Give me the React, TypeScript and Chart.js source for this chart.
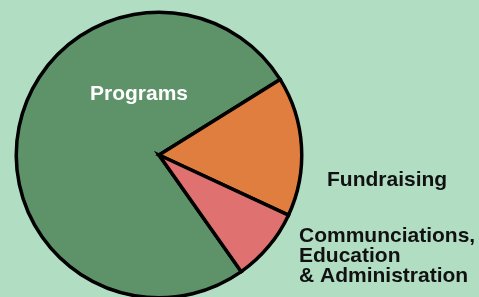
import React, { useEffect, useRef } from "react";
import { Chart, registerables } from "chart.js";

Chart.register(...registerables);

const categories = ["Programs", "Fundraising", "Communciations, Education & Administration"];
const values = [75.9, 15.8, 8.3];
const colors = ["#5e936a", "#e07e3f", "#df7271"];
const programsLabel = ["Programs"];
const fundraisingLabel = ["Fundraising"];
const commLabel = ["Communciations,", "Education", "& Administration"];

const BG = "#b1ddc3";

const labelPlugin = {
  id: "sliceLabels",
  afterDatasetsDraw(chart: any) {
    const meta = chart.getDatasetMeta(0);
    const arc = meta.data[0];
    if (!arc) return;
    const cx = arc.x;
    const cy = arc.y;
    const ctx = chart.ctx;
    ctx.save();
    ctx.font = "bold 21px 'Liberation Sans', Arial, sans-serif";
    ctx.textBaseline = "alphabetic";
    // Programs (inside, white)
    ctx.fillStyle = "#ffffff";
    ctx.textAlign = "center";
    programsLabel.forEach((t, i) => ctx.fillText(t, cx - 20, cy - 55 + i * 20));
    // Outside labels (black)
    ctx.fillStyle = "#111111";
    ctx.textAlign = "left";
    fundraisingLabel.forEach((t, i) => ctx.fillText(t, cx + 168, cy + 30.5 + i * 20));
    commLabel.forEach((t, i) => ctx.fillText(t, cx + 140, cy + 87 + i * 20));
    ctx.restore();
  },
};

export default function App() {
  const ref = useRef<HTMLCanvasElement | null>(null);
  useEffect(() => {
    document.body.style.margin = "0";
    document.body.style.background = BG;
    const canvas = ref.current;
    if (!canvas) return;
    const chart = new Chart(canvas, {
      type: "pie",
      data: {
        labels: categories,
        datasets: [
          {
            data: values,
            backgroundColor: colors,
            borderColor: "#000000",
            borderWidth: 3.5,
            borderJoinStyle: "miter",
          } as any,
        ],
      },
      options: {
        responsive: false,
        animation: false,
        rotation: 144.8,
        layout: { padding: { left: 14.5, top: 10.5, right: 175.5, bottom: 10.5 } },
        plugins: {
          legend: { display: false },
          tooltip: { enabled: false },
        },
      },
      plugins: [labelPlugin],
    });
    return () => chart.destroy();
  }, []);
  return (
    <div style={{ width: 479, height: 297, overflow: "hidden", background: BG }}>
      <canvas ref={ref} width={479} height={310} style={{ display: "block" }} />
    </div>
  );
}
